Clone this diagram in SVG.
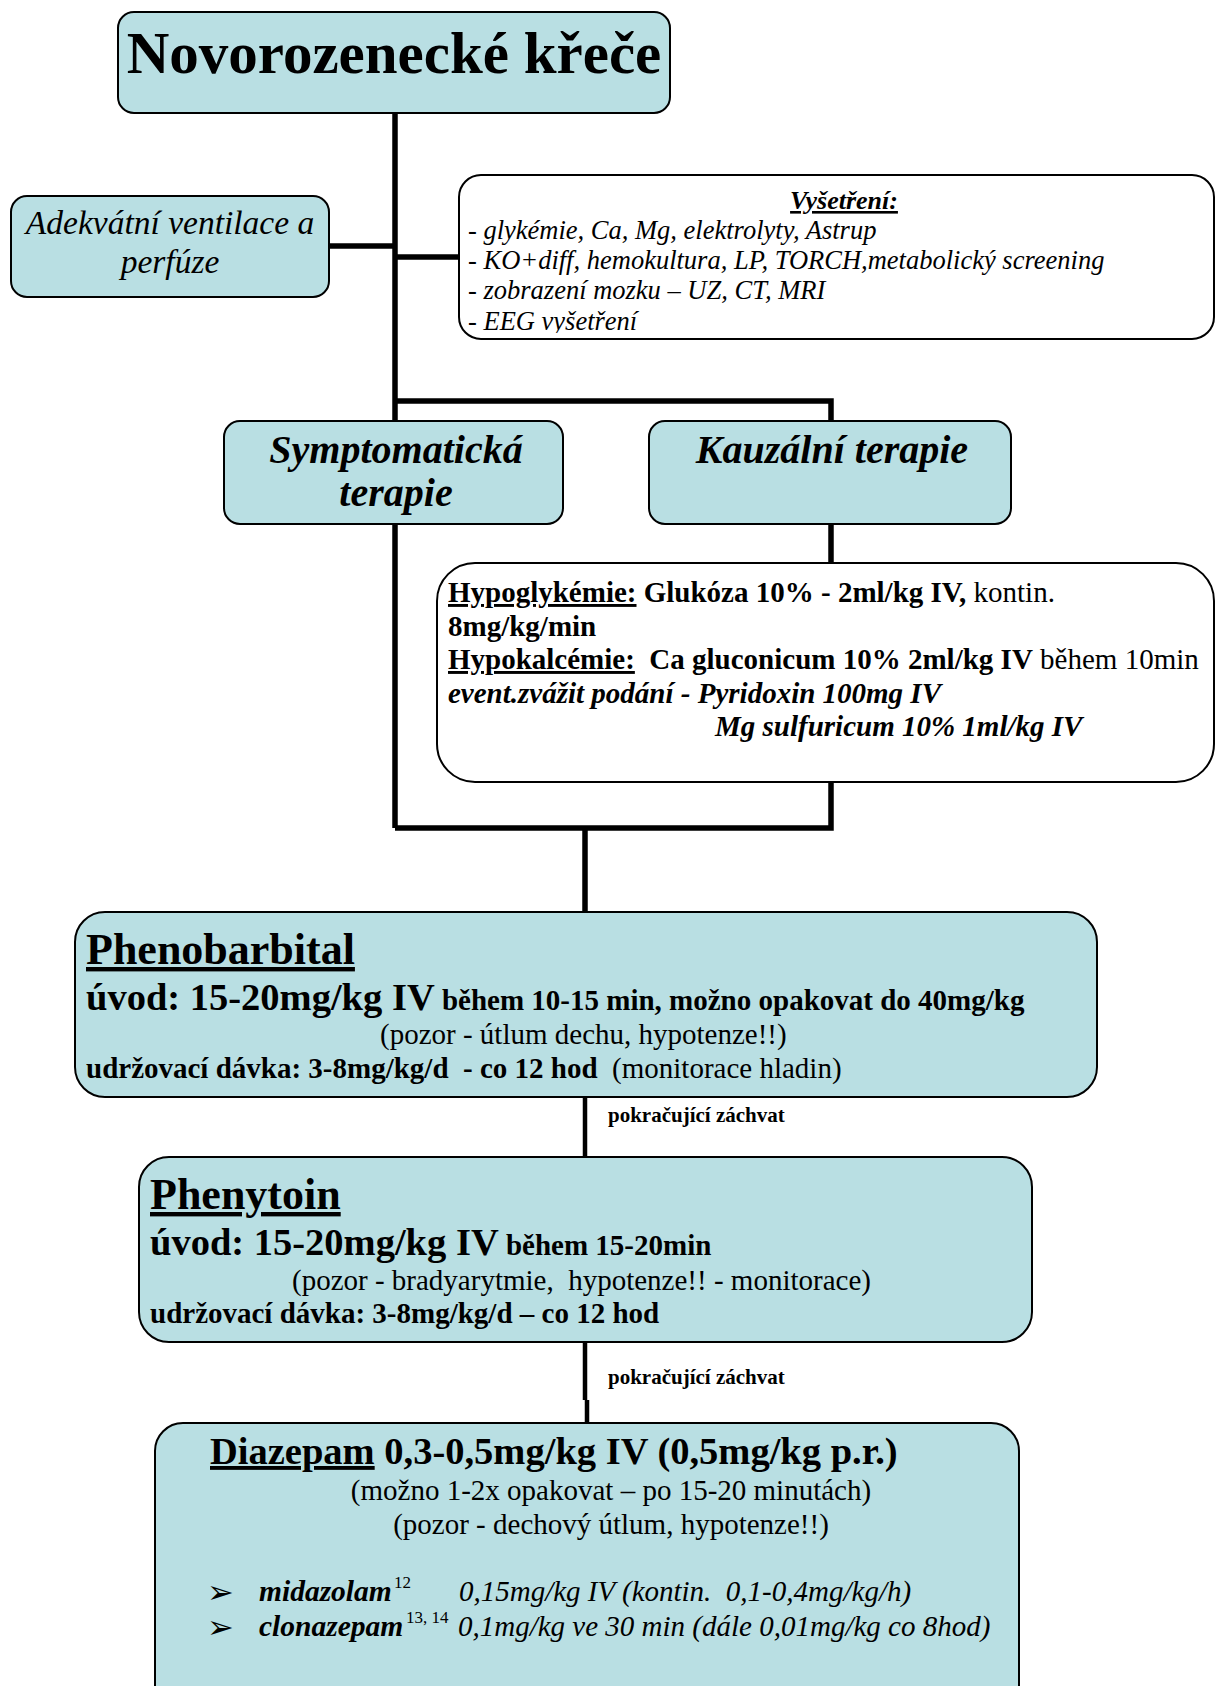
<svg xmlns="http://www.w3.org/2000/svg" width="1215" height="1686" viewBox="0 0 1215 1686">
<style>
.box{fill:#B9DFE3;stroke:#000;stroke-width:2}
.wbox{fill:#fff;stroke:#000;stroke-width:2}
.c{stroke:#000;stroke-width:5.5;fill:none}
.c2{stroke:#000;stroke-width:4.5;fill:none}
text{font-family:"Liberation Serif","Times New Roman",serif;fill:#000}
.b{font-weight:bold}
.i{font-style:italic}
.u{text-decoration:underline}
.arrow{font-family:"DejaVu Sans",sans-serif;font-weight:bold}
</style>
<defs>
<clipPath id="vclip"><rect x="459" y="175" width="756" height="158"/></clipPath>
</defs>
<rect width="1215" height="1686" fill="#fff"/>
<g id="connectors">
<path class="c" d="M395,113 V828"/>
<path class="c" d="M329,246 H395"/>
<path class="c" d="M395,257 H459"/>
<path class="c" d="M395,401 H831 V421"/>
<path class="c" d="M831,524 V563"/>
<path class="c" d="M831,782 V828 H395"/>
<path class="c" d="M585,828 V912"/>
<path class="c2" d="M585,1097 V1157"/>
<path class="c2" d="M585,1342 V1400 M587,1400 V1423"/>
</g>
<g id="title">
<rect class="box" x="118" y="12" width="552" height="101" rx="16"/>
<text x="394" y="73" font-size="59" class="b" text-anchor="middle">Novorozenecké křeče</text>
</g>
<g id="ventilace">
<rect class="box" x="11" y="196" width="318" height="101" rx="16"/>
<text x="170" y="234" font-size="33.5" class="i" text-anchor="middle">Adekvátní ventilace a</text>
<text x="170" y="273" font-size="33.5" class="i" text-anchor="middle">perfúze</text>
</g>
<g id="vysetreni">
<rect class="wbox" x="459" y="175" width="755" height="164" rx="22"/>
<g clip-path="url(#vclip)">
<text x="844" y="209" font-size="26" class="b i u" text-anchor="middle">Vyšetření:</text>
<text x="468" y="239" font-size="26.5" class="i">- glykémie, Ca, Mg, elektrolyty, Astrup</text>
<text x="468" y="269" font-size="26.5" class="i">- KO+diff, hemokultura, LP, TORCH,metabolický screening</text>
<text x="468" y="299" font-size="26.5" class="i">- zobrazení mozku – UZ, CT, MRI</text>
<text x="468" y="330" font-size="26.5" class="i">- EEG vyšetření</text>
</g>
</g>
<g id="symptomaticka">
<rect class="box" x="224" y="421" width="339" height="103" rx="16"/>
<text x="396" y="463" font-size="40" class="b i" text-anchor="middle">Symptomatická</text>
<text x="396" y="506" font-size="40" class="b i" text-anchor="middle">terapie</text>
</g>
<g id="kauzalni">
<rect class="box" x="649" y="421" width="362" height="103" rx="16"/>
<text x="832" y="463" font-size="40" class="b i" text-anchor="middle">Kauzální terapie</text>
</g>
<g id="kauzalni-detail">
<rect class="wbox" x="437" y="563" width="777" height="219" rx="38"/>
<text x="448" y="602" font-size="29"><tspan class="b u">Hypoglykémie:</tspan><tspan class="b"> Glukóza 10% - 2ml/kg IV,</tspan> kontin.</text>
<text x="448" y="636" font-size="29" class="b">8mg/kg/min</text>
<text x="448" y="669" font-size="29"><tspan class="b u">Hypokalcémie:</tspan><tspan class="b" xml:space="preserve">  Ca gluconicum 10% 2ml/kg IV</tspan> během 10min</text>
<text x="448" y="703" font-size="29" class="b i">event.zvážit podání - Pyridoxin 100mg IV</text>
<text x="715" y="736" font-size="29" class="b i">Mg sulfuricum 10% 1ml/kg IV</text>
</g>
<g id="phenobarbital">
<rect class="box" x="75" y="912" width="1022" height="185" rx="30"/>
<text x="86" y="964" font-size="44" class="b u">Phenobarbital</text>
<text x="86" y="1010" class="b"><tspan font-size="38.5">úvod: 15-20mg/kg IV</tspan><tspan font-size="29"> během 10-15 min, možno opakovat do 40mg/kg</tspan></text>
<text x="380" y="1044" font-size="29">(pozor - útlum dechu, hypotenze!!)</text>
<text x="86" y="1078" font-size="29" xml:space="preserve"><tspan class="b">udržovací dávka: 3-8mg/kg/d  - co 12 hod</tspan>  (monitorace hladin)</text>
</g>
<g id="label1">
<text x="608" y="1122" font-size="21" class="b">pokračující záchvat</text>
</g>
<g id="phenytoin">
<rect class="box" x="139" y="1157" width="893" height="185" rx="30"/>
<text x="150" y="1209" font-size="44" class="b u">Phenytoin</text>
<text x="150" y="1255" class="b"><tspan font-size="38.5">úvod: 15-20mg/kg IV</tspan><tspan font-size="29"> během 15-20min</tspan></text>
<text x="292" y="1290" font-size="29" xml:space="preserve">(pozor - bradyarytmie,  hypotenze!! - monitorace)</text>
<text x="150" y="1323" font-size="29" class="b">udržovací dávka: 3-8mg/kg/d – co 12 hod</text>
</g>
<g id="label2">
<text x="608" y="1384" font-size="21" class="b">pokračující záchvat</text>
</g>
<g id="diazepam">
<rect class="box" x="155" y="1423" width="864" height="290" rx="28"/>
<text x="210" y="1464" font-size="38.5" class="b"><tspan class="u">Diazepam</tspan> 0,3-0,5mg/kg IV (0,5mg/kg p.r.)</text>
<text x="611" y="1500" font-size="29" text-anchor="middle">(možno 1-2x opakovat – po 15-20 minutách)</text>
<text x="611" y="1534" font-size="29" text-anchor="middle">(pozor - dechový útlum, hypotenze!!)</text>
<text x="207" y="1603" font-size="32" class="arrow">➢</text>
<text x="259" y="1601" font-size="29.5" class="b i">midazolam</text>
<text x="394" y="1588" font-size="17">12</text>
<text x="459" y="1601" font-size="29" class="i" xml:space="preserve">0,15mg/kg IV (kontin.  0,1-0,4mg/kg/h)</text>
<text x="207" y="1638" font-size="32" class="arrow">➢</text>
<text x="259" y="1636" font-size="29.5" class="b i">clonazepam</text>
<text x="406" y="1623" font-size="17">13, 14</text>
<text x="458" y="1636" font-size="29" class="i">0,1mg/kg ve 30 min (dále 0,01mg/kg co 8hod)</text>
</g>
</svg>
